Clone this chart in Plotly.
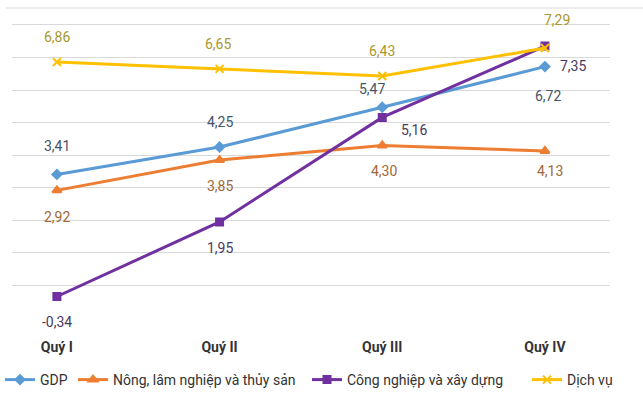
import plotly.graph_objects as go

quarters = ["Quý I", "Quý II", "Quý III", "Quý IV"]
gdp = [3.41, 4.25, 5.47, 6.72]
nong = [2.92, 3.85, 4.30, 4.13]
cong = [-0.34, 1.95, 5.16, 7.35]
dich = [6.86, 6.65, 6.43, 7.29]
labels_fmt = lambda v: f"{v:.2f}".replace(".", ",")

FONT = "Roboto, Arial, sans-serif"

series = [
    ("GDP", gdp, "#5b9bd5", "diamond", 7, "#44546a", "legend", 32),
    ("Nông, lâm nghiệp và thủy sản", nong, "#ed7d31", "triangle-up", 8, "#a0683a", "legend2", 115),
    ("Công nghiệp và xây dựng", cong, "#7030a0", "square", 7, "#4b3a60", "legend3", 349),
    ("Dịch vụ", dich, "#ffc000", "x-thin-open", 8, "#a8982e", "legend4", 569),
]

# label offsets (dx, dy) in pixels per series per point
offsets = {
    "GDP": [(0, -28), (0, -25), (-10, -18), (3, 29)],
    "Nông, lâm nghiệp và thủy sản": [(0, 27), (0, 26), (2, 26), (5, 20)],
    "Công nghiệp và xây dựng": [(0, 25), (0, 26), (32, 13), (28, 20)],
    "Dịch vụ": [(0, -25), (-2, -25), (0, -25), (12, -28)],
}

fig = go.Figure()
annotations = []
legends = {}
for name, vals, color, sym, size, tcol, leg, tx in series:
    fig.add_trace(go.Scatter(
        x=quarters, y=vals, name=name, mode="lines+markers",
        line=dict(color=color, width=3),
        marker=dict(symbol=sym, size=size, color=color,
                    line=dict(color=color, width=2)),
        legend=leg,
    ))
    legends[leg] = dict(
        xref="container", yref="container", x=(tx - 42) / 643, y=14 / 394,
        xanchor="left", yanchor="middle", orientation="h",
        bgcolor="rgba(0,0,0,0)", borderwidth=0,
        font=dict(family=FONT, size=14, color="#333333"),
    )
    for i, (q, v) in enumerate(zip(quarters, vals)):
        dx, dy = offsets[name][i]
        annotations.append(dict(
            x=q, y=v, text=labels_fmt(v), showarrow=False,
            xshift=dx, yshift=-dy,
            font=dict(family=FONT, size=14, color=tcol),
        ))

fig.update_layout(
    width=643, height=394,
    margin=dict(l=12, r=33, t=8, b=76, autoexpand=False),
    paper_bgcolor="white", plot_bgcolor="white",
    showlegend=True,
    annotations=annotations,
    xaxis=dict(range=[-0.276, 3.40], showgrid=False, zeroline=False,
               showline=False, ticks="outside", ticklen=16,
               tickcolor="rgba(0,0,0,0)",
               tickfont=dict(family=FONT, size=14, color="#333333", weight="bold")),
    yaxis=dict(range=[-1, 8.52], dtick=1, tick0=0, showgrid=True,
               gridcolor="#d9d9d9", gridwidth=1, zeroline=False,
               showticklabels=False, showline=False),
    shapes=[dict(type="line", xref="paper", yref="paper", x0=-0.01, x1=1.06,
                 y0=1, y1=1, line=dict(color="#d9d9d9", width=1))],
    **legends,
)

fig.write_html("out.html")
